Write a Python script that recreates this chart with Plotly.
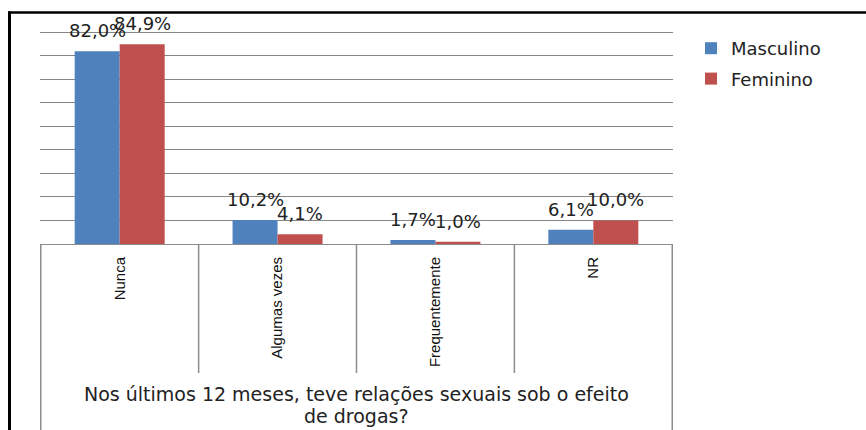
import plotly.graph_objects as go

# Survey answers by sex
categories = ["Nunca", "Algumas vezes", "Frequentemente", "NR"]
masculino = [82.0, 10.2, 1.7, 6.1]
feminino = [84.9, 4.1, 1.0, 10.0]
series_names = ["Masculino", "Feminino"]
series_colors = ["#4F81BD", "#C0504D"]
axis_title_lines = ["Nos últimos 12 meses, teve relações sexuais sob o efeito", "de drogas?"]

W, H = 866, 430
Y_MAX = 91
M_L, M_R, M_T, M_B = 40, 193, 30, 186
PLOT_W = W - M_L - M_R
PLOT_H = H - M_T - M_B
BARGAP = 0.43


def px_x(px):
    return (px - M_L) / PLOT_W


def px_y(py):
    return (H - M_B - py) / PLOT_H


def fmt(v):
    return f"{v:.1f}".replace(".", ",") + "%"


fig = go.Figure()
for name, vals, color in zip(series_names, [masculino, feminino], series_colors):
    fig.add_trace(go.Bar(
        x=categories, y=vals, name=name, legendgroup=name,
        marker=dict(color=color, line=dict(width=0)),
    ))

# value labels above each bar
cat_px = PLOT_W / len(categories)
bar_px = cat_px * (1 - BARGAP) / 2
for i, vals in enumerate([masculino, feminino]):
    shift = (i - 0.5) * bar_px
    for c, v in zip(categories, vals):
        fig.add_annotation(
            x=c, y=v, xref="x", yref="y", text=fmt(v), showarrow=False,
            xanchor="center", yanchor="bottom", xshift=shift, yshift=8,
            font=dict(family="DejaVu Sans", size=18, color="#222222"),
        )

# category table lines below the axis
grey = "#8C8C8C"
for k in range(len(categories) + 1):
    xb = k - 0.5
    outer = k in (0, len(categories))
    fig.add_shape(type="line", xref="x", yref="paper", x0=xb, x1=xb,
                  y0=0, y1=px_y(432) if outer else px_y(373),
                  line=dict(color=grey, width=1.5))

# chart frame
fig.add_shape(type="line", xref="paper", yref="paper",
              x0=px_x(9.5), x1=px_x(9.5), y0=px_y(11.5), y1=px_y(432),
              line=dict(color="black", width=3))
fig.add_shape(type="line", xref="paper", yref="paper",
              x0=px_x(8), x1=px_x(868), y0=px_y(12.5), y1=px_y(12.5),
              line=dict(color="black", width=2.5))

# axis title, two lines
for line_text, cy in zip(axis_title_lines, [394, 416]):
    fig.add_annotation(
        x=0.5, y=px_y(cy), xref="paper", yref="paper", text=line_text,
        showarrow=False, xanchor="center", yanchor="middle",
        font=dict(family="DejaVu Sans", size=19, color="#222222"),
    )

fig.update_layout(
    width=W, height=H,
    margin=dict(l=M_L, r=M_R, t=M_T, b=M_B, pad=0),
    paper_bgcolor="white", plot_bgcolor="white",
    barmode="group", bargap=BARGAP, bargroupgap=0,
    showlegend=True,
    legend=dict(
        x=px_x(691), y=px_y(30), xanchor="left", yanchor="top",
        font=dict(family="DejaVu Sans", size=18, color="#222222"),
        traceorder="grouped", tracegroupgap=4,
        bgcolor="rgba(0,0,0,0)",
    ),
    xaxis=dict(
        showgrid=False, showline=True, linecolor=grey, linewidth=1,
        ticks="", tickangle=-90, ticklabelstandoff=6,
        tickfont=dict(family="Liberation Sans", size=15, color="#111111"),
    ),
    yaxis=dict(
        range=[0, Y_MAX], dtick=10, showticklabels=False, showgrid=True,
        gridcolor="#868686", gridwidth=1, zeroline=False, showline=False,
    ),
)

fig.write_html("out.html")
